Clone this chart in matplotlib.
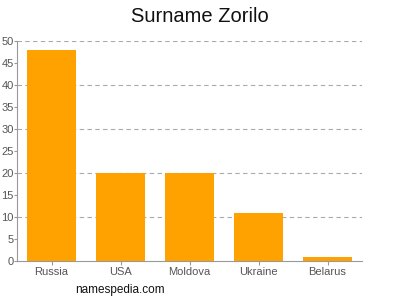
import matplotlib
matplotlib.use("Agg")
import matplotlib.pyplot as plt
import numpy as np

countries = ["Russia", "USA", "Moldova", "Ukraine", "Belarus"]
counts = [48, 20, 20, 11, 1]
yticks = [0, 5, 10, 15, 20, 25, 30, 35, 40, 45, 50]
gridlines = [10, 20, 30, 40, 50]

plt.rcParams['font.family'] = ['Liberation Sans', 'DejaVu Sans']

fig = plt.figure(figsize=(4, 3), dpi=100)
ax = fig.add_axes([0.0425, 0.13, 0.8625, 0.733])

x = np.arange(len(countries))
for g in gridlines:
    ax.axhline(g, color='#aaaaaa', linestyle=(0, (4, 3)), linewidth=0.8, zorder=0)
ax.bar(x, counts, width=0.72, color='#ffa200', zorder=2)

ax.set_xlim(-0.5, len(countries) - 0.5)
ax.set_ylim(0, 50)
ax.set_xticks(x)
ax.set_xticklabels(countries)
ax.set_yticks(yticks)

for side in ['top', 'right']:
    ax.spines[side].set_visible(False)
for side in ['left', 'bottom']:
    ax.spines[side].set_color('#999999')
    ax.spines[side].set_linewidth(0.8)
ax.tick_params(axis='both', colors='#999999', labelcolor='#555555',
               labelsize=8, length=3, width=0.8, pad=1.5)
ax.tick_params(axis='y', length=2, pad=0.3)

fig.suptitle("Surname Zorilo", x=0.5, y=0.975, fontsize=14.5, color='#111111')
fig.text(0.1875, 0.025, "namespedia.com", fontsize=8.5, color='#111111')

fig.savefig("out.png", dpi=100)
